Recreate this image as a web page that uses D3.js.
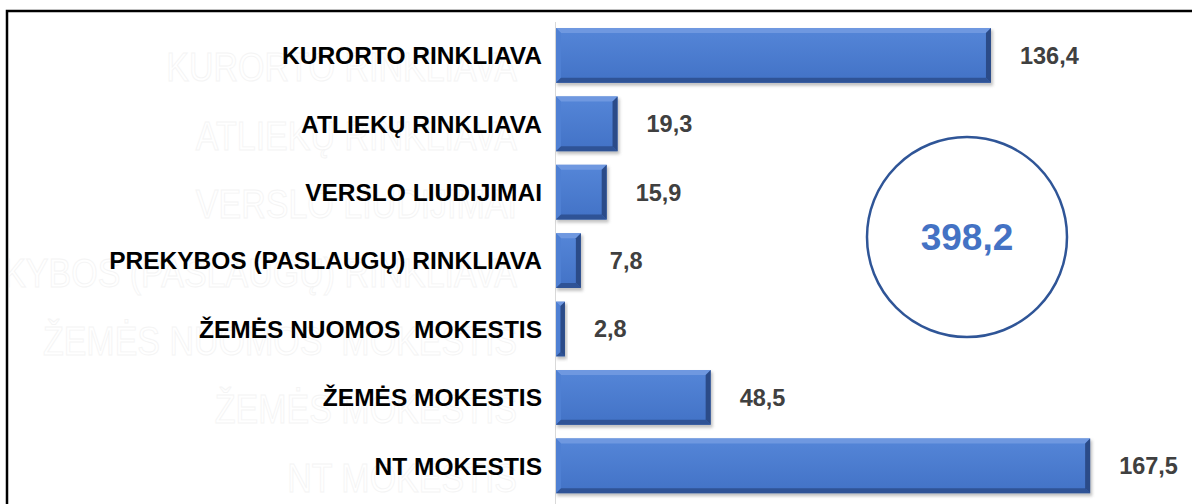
<!DOCTYPE html>
<html>
<head>
<meta charset="utf-8">
<script src="https://cdn.jsdelivr.net/npm/d3@7"></script>
<style>
  html, body { margin: 0; padding: 0; background: #fff; }
  svg { display: block; }
  text { font-family: "Liberation Sans", Arial, sans-serif; }
</style>
</head>
<body>
<svg id="chart" width="1192" height="504"></svg>
<script>
const categories = [
  "KURORTO RINKLIAVA",
  "ATLIEKŲ RINKLIAVA",
  "VERSLO LIUDIJIMAI",
  "PREKYBOS (PASLAUGŲ) RINKLIAVA",
  "ŽEMĖS NUOMOS  MOKESTIS",
  "ŽEMĖS MOKESTIS",
  "NT MOKESTIS"
];
const values = [136.4, 19.3, 15.9, 7.8, 2.8, 48.5, 167.5];
const valueLabels = ["136,4", "19,3", "15,9", "7,8", "2,8", "48,5", "167,5"];
const totalLabel = "398,2";

const svg = d3.select("#chart");

// frame
svg.append("rect")
  .attr("x", 7).attr("y", 11)
  .attr("width", 1200).attr("height", 520)
  .attr("fill", "#fff").attr("stroke", "#000").attr("stroke-width", 2.5);

const x = d3.scaleLinear().domain([0, 180]).range([556, 1130]);
const y = d3.scaleBand().domain(categories).range([21.2, 500])
  .paddingInner(0.2).paddingOuter(0.1);

const defs = svg.append("defs");
const g = defs.append("linearGradient").attr("id", "face")
  .attr("x1", 0).attr("y1", 0).attr("x2", 0).attr("y2", 1);
g.append("stop").attr("offset", "0%").attr("stop-color", "#5586d8");
g.append("stop").attr("offset", "100%").attr("stop-color", "#4272c6");
const sh = defs.append("filter").attr("id", "shadow")
  .attr("x", "-5%").attr("y", "-20%").attr("width", "115%").attr("height", "150%");
sh.append("feGaussianBlur").attr("stdDeviation", 1.5);
defs.append("clipPath").attr("id", "inner")
  .append("rect").attr("x", 9).attr("y", 13).attr("width", 540).attr("height", 500);

// ghost reflected labels (barely visible)
svg.append("g").attr("clip-path", "url(#inner)")
  .selectAll("text").data(categories).join("text")
  .attr("transform", d => `translate(517,${y(d) + y.bandwidth() / 2 + 26}) scale(1,1.2)`)
  .attr("text-anchor", "end")
  .attr("font-size", 34)
  .attr("fill", "#fff")
  .attr("stroke", "#f4f4f4")
  .attr("stroke-width", 0.8)
  .style("white-space", "pre")
  .text(d => d);

// axis line
svg.append("line")
  .attr("x1", 555.5).attr("x2", 555.5)
  .attr("y1", 22).attr("y2", 504)
  .attr("stroke", "#d9d9d9").attr("stroke-width", 1);

const rows = svg.append("g").selectAll("g").data(categories).join("g");

rows.each(function (d, i) {
  const sel = d3.select(this);
  const x0 = x(0), x1 = x(values[i]);
  const y0 = y(d), y1 = y(d) + y.bandwidth();
  const w = x1 - x0;
  const b = Math.min(5, w / 2);
  sel.append("rect")
    .attr("x", x0 + 1).attr("y", y0 + 2)
    .attr("width", w + 1).attr("height", y1 - y0 + 1)
    .attr("fill", "#9a9a9a").attr("opacity", 0.6)
    .attr("filter", "url(#shadow)");
  sel.append("rect")
    .attr("x", x0).attr("y", y0).attr("width", w).attr("height", y1 - y0)
    .attr("fill", "url(#face)");
  const P = pts => pts.map(p => p.join(",")).join(" ");
  sel.append("polygon")
    .attr("points", P([[x0, y0], [x1, y0], [x1 - b, y0 + b], [x0 + b, y0 + b]]))
    .attr("fill", "#6f98e0");
  sel.append("polygon")
    .attr("points", P([[x0, y0], [x0 + b, y0 + b], [x0 + b, y1 - b], [x0, y1]]))
    .attr("fill", "#4f80d3");
  sel.append("polygon")
    .attr("points", P([[x0, y1], [x0 + b, y1 - b], [x1 - b, y1 - b], [x1, y1]]))
    .attr("fill", "#2f5396");
  sel.append("polygon")
    .attr("points", P([[x1, y0], [x1, y1], [x1 - b, y1 - b], [x1 - b, y0 + b]]))
    .attr("fill", "#2b4b88");
  sel.append("text")
    .attr("x", x1 + 29)
    .attr("y", (y0 + y1) / 2)
    .attr("dy", "0.36em")
    .attr("font-size", 23.5)
    .attr("font-weight", "bold")
    .attr("fill", "#404040")
    .text(valueLabels[i]);
});

// category labels
svg.append("g").selectAll("text").data(categories).join("text")
  .attr("x", 542)
  .attr("y", d => y(d) + y.bandwidth() / 2)
  .attr("dy", "0.36em")
  .attr("text-anchor", "end")
  .attr("font-size", 24.5)
  .attr("font-weight", "bold")
  .attr("fill", "#000")
  .style("white-space", "pre")
  .text(d => d);

// total circle
svg.append("circle")
  .attr("cx", 967).attr("cy", 237).attr("r", 100)
  .attr("fill", "none").attr("stroke", "#2f5597").attr("stroke-width", 2.5);
svg.append("text")
  .attr("x", 967).attr("y", 237).attr("dy", "0.36em")
  .attr("text-anchor", "middle")
  .attr("font-size", 37)
  .attr("font-weight", "bold")
  .attr("fill", "#4472c4")
  .text(totalLabel);
</script>
</body>
</html>
